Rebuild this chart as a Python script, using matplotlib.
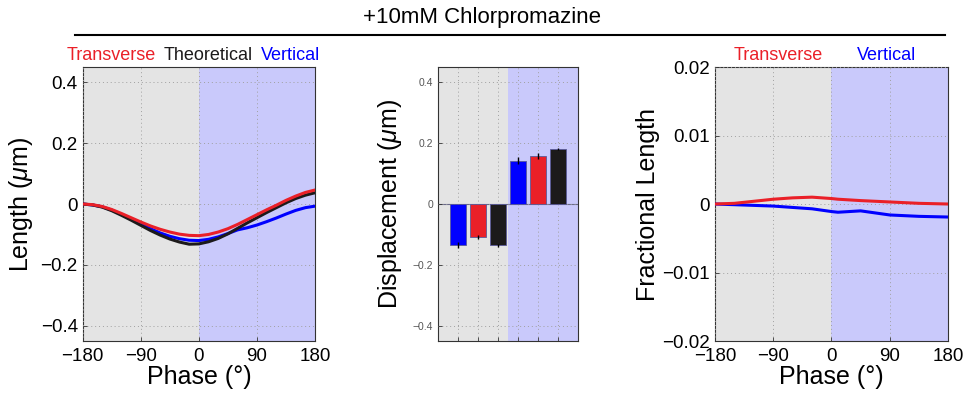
import numpy as np
import matplotlib
matplotlib.use("Agg")
import matplotlib.pyplot as plt
from matplotlib.lines import Line2D

plt.rcParams['font.family'] = ['Liberation Sans', 'DejaVu Sans']
plt.rcParams['mathtext.fontset'] = 'custom'
plt.rcParams['mathtext.it'] = 'Liberation Sans:italic'

# length vs phase (um), sampled every 15 degrees
phase = list(range(-180, 181, 15))
len_transverse = [0, -0.002, -0.008, -0.018, -0.031, -0.045, -0.059, -0.072, -0.083, -0.092, -0.099, -0.103,
                  -0.104, -0.100, -0.092, -0.081, -0.067, -0.051, -0.035, -0.019, -0.004, 0.012, 0.026, 0.038, 0.046]
len_theoretical = [0, -0.003, -0.010, -0.022, -0.037, -0.053, -0.070, -0.087, -0.102, -0.115, -0.125, -0.132,
                   -0.131, -0.124, -0.113, -0.098, -0.080, -0.062, -0.045, -0.028, -0.012, 0.004, 0.018, 0.029, 0.037]
len_vertical = [0, -0.003, -0.009, -0.020, -0.034, -0.050, -0.066, -0.081, -0.095, -0.106, -0.114, -0.119,
                -0.120, -0.116, -0.108, -0.097, -0.085, -0.078, -0.069, -0.058, -0.046, -0.033, -0.021, -0.012, -0.007]

# mean displacement per half cycle (um): vertical, transverse, theoretical
disp_values = [-0.135, -0.108, -0.135, 0.142, 0.157, 0.181]
disp_errors = [0.010, 0.007, 0.005, 0.012, 0.009, 0.004]

# fractional length vs phase
frac_phase = [-180, -150, -120, -90, -60, -30, 0, 10, 45, 90, 135, 180]
frac_transverse = [0, 0.0001, 0.0004, 0.0007, 0.0009, 0.001, 0.0008, 0.0007, 0.0005, 0.0003, 0.0001, 0.0]
frac_vertical = [0, -0.0001, -0.0002, -0.0003, -0.0005, -0.0007, -0.0011, -0.0012, -0.001, -0.0016, -0.0018, -0.0019]

RED = '#ea2028'
BLUE = '#0000ff'
BLACK = '#1c1a1b'
GRAY_BG = '#e4e4e4'
BLUE_BG = '#c9c9fb'

fig = plt.figure(figsize=(9.64, 3.94), dpi=100)


def shade(ax, x0, xmid, x1):
    ax.axvspan(x0, xmid, color=GRAY_BG, lw=0, zorder=0)
    ax.axvspan(xmid, x1, color=BLUE_BG, lw=0, zorder=0)


def style(ax):
    ax.grid(True, linestyle=(0, (1, 3)), color='#a0a0a0', lw=0.7)
    ax.set_axisbelow(False)
    for s in ax.spines.values():
        s.set_color('#333333')
        s.set_linewidth(0.8)
    ax.tick_params(direction='in', length=3, width=0.6, color='#333333')


phase_ticks = [-180, -90, 0, 90, 180]
phase_labels = ['\u2212180', '\u221290', '0', '90', '180']

# Panel 1: length
ax1 = fig.add_axes([0.0858, 0.1345, 0.241, 0.6954])
shade(ax1, -180, 0, 180)
ax1.plot(phase, len_vertical, color=BLUE, lw=2.2, zorder=3)
ax1.plot(phase, len_theoretical, color=BLACK, lw=2.2, zorder=3)
ax1.plot(phase, len_transverse, color=RED, lw=2.2, zorder=4)
ax1.set_xlim(-180, 180)
ax1.set_ylim(-0.45, 0.45)
ax1.set_xticks(phase_ticks)
ax1.set_xticklabels(phase_labels)
ax1.set_yticks([-0.4, -0.2, 0, 0.2, 0.4])
ax1.set_yticklabels(['\u22120.4', '\u22120.2', '0', '0.2', '0.4'])
ax1.tick_params(labelsize=13.5)
ax1.tick_params(axis='x', pad=5)
ax1.set_xlabel('Phase (\u00b0)', fontsize=18, labelpad=0)
ax1.set_ylabel('Length ($\\mu$m)', fontsize=18, labelpad=4)
style(ax1)
# coloured series names above the first panel, left edges in axes fraction
for x, txt, c in [(-0.07, 'Transverse', RED), (0.348, 'Theoretical', BLACK), (0.765, 'Vertical', BLUE)]:
    ax1.text(x, 1.012, txt, color=c, fontsize=13, ha='left', va='bottom', transform=ax1.transAxes)

# Panel 2: displacement bars
ax2 = fig.add_axes([0.4544, 0.1345, 0.1452, 0.6954])
shade(ax2, 0, 3.5, 7)
pos = np.arange(1, 7)
bar_colors = [BLUE, RED, BLACK, BLUE, RED, BLACK]
ax2.bar(pos, disp_values, width=0.8, color=bar_colors, edgecolor='#5a5a9a', lw=0.6, zorder=3)
ax2.errorbar(pos, disp_values, yerr=disp_errors, fmt='none', ecolor='black', elinewidth=1.0, capsize=0, zorder=4)
ax2.axhline(0, color='#6a6a8a', lw=0.8, zorder=2)
ax2.set_xlim(0, 7)
ax2.set_ylim(-0.45, 0.45)
ax2.set_xticks(pos)
ax2.set_xticklabels([])
ax2.set_yticks([-0.4, -0.2, 0, 0.2, 0.4])
ax2.set_yticklabels(['\u22120.4', '\u22120.2', '0', '0.2', '0.4'])
ax2.tick_params(labelsize=7.5, colors='#555555')
ax2.set_ylabel('Displacement ($\\mu$m)', fontsize=18, labelpad=6)
style(ax2)

# Panel 3: fractional length
ax3 = fig.add_axes([0.7417, 0.1345, 0.2417, 0.6954])
shade(ax3, -180, 0, 180)
ax3.plot(frac_phase, frac_vertical, color=BLUE, lw=2.2, zorder=3)
ax3.plot(frac_phase, frac_transverse, color=RED, lw=2.2, zorder=4)
ax3.set_xlim(-180, 180)
ax3.set_ylim(-0.02, 0.02)
ax3.set_xticks(phase_ticks)
ax3.set_xticklabels(phase_labels)
ax3.set_yticks([-0.02, -0.01, 0, 0.01, 0.02])
ax3.set_yticklabels(['\u22120.02', '\u22120.01', '0', '0.01', '0.02'])
ax3.tick_params(labelsize=13.5)
ax3.tick_params(axis='x', pad=5)
ax3.set_xlabel('Phase (\u00b0)', fontsize=18, labelpad=0)
ax3.set_ylabel('Fractional Length', fontsize=18, labelpad=2)
style(ax3)
for x, txt, c in [(0.27, 'Transverse', RED), (0.738, 'Vertical', BLUE)]:
    ax3.text(x, 1.012, txt, color=c, fontsize=13, ha='center', va='bottom', transform=ax3.transAxes)

# title with rule underneath
fig.text(0.5, 0.955, '+10mM Chlorpromazine', ha='center', va='center', fontsize=16)
fig.add_artist(Line2D([75 / 964, 945 / 964], [1 - 35 / 394, 1 - 35 / 394], color='black', lw=1.5,
                      transform=fig.transFigure))

fig.savefig('out.png', dpi=100)
